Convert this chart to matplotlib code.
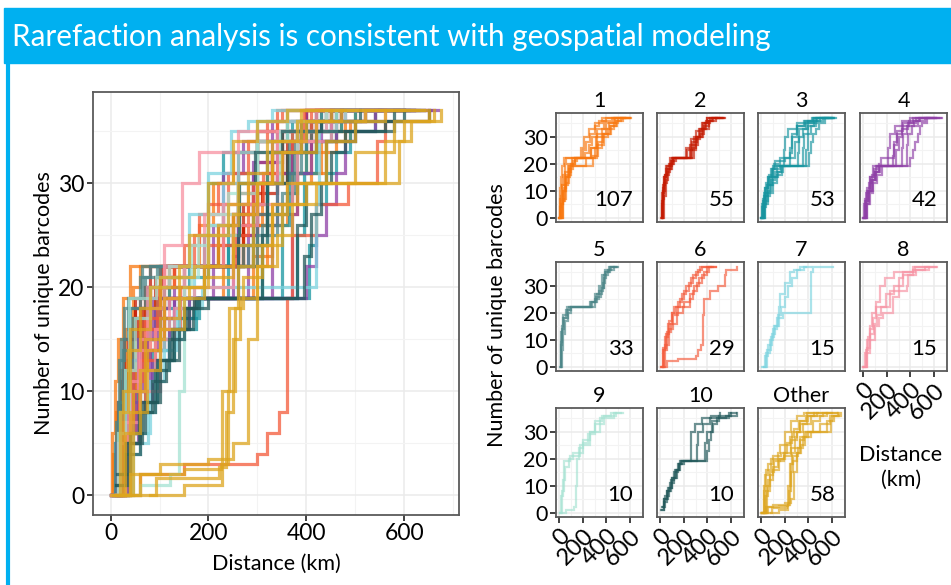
import matplotlib.pyplot as plt
from matplotlib.patches import Rectangle
from matplotlib.lines import Line2D

plt.rcParams['font.family'] = ['Lato', 'DejaVu Sans']

title = "Rarefaction analysis is consistent with geospatial modeling"

cluster_names = ["1", "2", "3", "4", "5", "6", "7", "8", "9", "10", "Other"]
cluster_sizes = [107, 55, 53, 42, 33, 29, 15, 15, 10, 10, 58]
cluster_colors = ["#F8770E", "#C41A02", "#16949F", "#8E3FA6", "#4A8587", "#F45A3A",
                  "#7DD4E0", "#F790A1", "#A5E2D2", "#21585A", "#DDA51E"]

# each curve: (distance km, number of unique barcodes) knots
curves_1 = [
    [(0, 0), (5, 4), (12, 8), (20, 12), (30, 16), (45, 20), (60, 22), (170, 22), (200, 25), (230, 28),
     (260, 31), (300, 34), (340, 36), (400, 37), (520, 37)],
    [(5, 0), (15, 5), (30, 10), (50, 15), (80, 19), (110, 22), (240, 22), (270, 26), (310, 30), (360, 33),
     (420, 35), (470, 37), (600, 37)],
    [(10, 0), (20, 6), (40, 11), (60, 15), (90, 19), (260, 19), (290, 23), (330, 28), (370, 31), (430, 34),
     (480, 36), (520, 37), (600, 37)],
    [(0, 0), (10, 7), (25, 12), (45, 17), (70, 20), (130, 22), (200, 22), (220, 24), (250, 27), (280, 30),
     (320, 33), (380, 36), (450, 37), (560, 37)],
    [(15, 0), (30, 6), (50, 12), (75, 17), (100, 20), (130, 22), (260, 22), (300, 26), (360, 30), (410, 33),
     (460, 35), (500, 37), (590, 37)],
    [(0, 0), (3, 6), (8, 11), (15, 15), (25, 19), (40, 22), (150, 22), (180, 26), (210, 30), (250, 33),
     (300, 35), (360, 37), (480, 37)],
    [(20, 0), (35, 7), (55, 13), (80, 18), (120, 21), (150, 22), (280, 22), (320, 27), (380, 31), (440, 34),
     (490, 36), (540, 37), (610, 37)],
    [(8, 0), (18, 5), (35, 10), (60, 16), (95, 19), (200, 19), (230, 22), (270, 26), (320, 31), (400, 35),
     (460, 37), (560, 37)],
]
curves_2 = [
    [(15, 0), (18, 6), (25, 12), (40, 16), (60, 19), (100, 22), (200, 22), (230, 25), (270, 28), (310, 30),
     (340, 33), (380, 35), (420, 37), (520, 37)],
    [(20, 0), (25, 7), (35, 13), (55, 17), (80, 20), (120, 22), (240, 22), (270, 26), (300, 29), (340, 31),
     (370, 34), (410, 36), (450, 37), (540, 37)],
    [(10, 0), (15, 5), (22, 11), (35, 15), (50, 18), (90, 21), (110, 22), (210, 22), (250, 27), (290, 30),
     (330, 33), (360, 35), (400, 37), (500, 37)],
    [(25, 0), (30, 8), (45, 14), (65, 18), (100, 21), (130, 22), (230, 22), (260, 25), (300, 30), (350, 33),
     (390, 36), (440, 37), (530, 37)],
    [(12, 0), (16, 9), (28, 15), (50, 19), (80, 22), (180, 22), (220, 26), (260, 29), (300, 32), (350, 35),
     (400, 37), (480, 37)],
    [(18, 0), (22, 10), (38, 16), (70, 20), (105, 22), (260, 22), (290, 27), (320, 30), (360, 33), (410, 36),
     (470, 37), (550, 37)],
]
curves_3 = [
    [(0, 0), (10, 4), (25, 8), (45, 12), (70, 15), (100, 18), (130, 19), (180, 19), (190, 25), (200, 30),
     (230, 33), (300, 35), (400, 36), (460, 37), (600, 37)],
    [(10, 0), (20, 5), (40, 9), (60, 12), (90, 15), (130, 18), (160, 19), (300, 19), (310, 24), (320, 30),
     (350, 33), (400, 35), (470, 37), (610, 37)],
    [(5, 0), (20, 4), (40, 8), (70, 12), (100, 15), (140, 17), (180, 19), (370, 19), (380, 25), (395, 31),
     (420, 34), (460, 36), (520, 37), (620, 37)],
    [(15, 0), (30, 6), (55, 10), (85, 14), (120, 17), (170, 19), (390, 19), (405, 24), (420, 28), (440, 31),
     (460, 33), (490, 35), (540, 37), (630, 37)],
    [(0, 0), (15, 6), (35, 11), (60, 15), (90, 18), (120, 21), (200, 22), (240, 24), (260, 30), (300, 34),
     (360, 36), (430, 37), (570, 37)],
    [(0, 0), (8, 5), (20, 9), (40, 13), (65, 16), (95, 19), (230, 19), (240, 26), (260, 31), (300, 34),
     (370, 36), (440, 37), (590, 37)],
    [(20, 0), (35, 5), (60, 9), (95, 13), (130, 16), (175, 19), (340, 19), (350, 26), (365, 31), (400, 34),
     (450, 36), (500, 37), (620, 37)],
    [(5, 0), (15, 7), (30, 11), (55, 15), (80, 18), (110, 20), (160, 22), (280, 22), (290, 28), (320, 33),
     (380, 35), (450, 37), (600, 37)],
]
curves_4 = [
    [(0, 0), (10, 5), (25, 9), (45, 13), (75, 16), (110, 19), (200, 19), (210, 26), (230, 31), (270, 34),
     (330, 36), (400, 37), (560, 37)],
    [(10, 0), (25, 5), (45, 10), (70, 14), (100, 17), (140, 19), (320, 19), (330, 26), (340, 31), (370, 34),
     (430, 36), (480, 37), (620, 37)],
    [(5, 0), (20, 6), (40, 10), (65, 14), (95, 17), (130, 19), (390, 19), (400, 22), (420, 25), (440, 28),
     (460, 31), (480, 34), (500, 35), (540, 37), (660, 37)],
    [(15, 0), (30, 6), (50, 10), (80, 14), (110, 17), (130, 20), (150, 22), (250, 22), (260, 28), (290, 32),
     (340, 35), (420, 37), (600, 37)],
    [(0, 0), (15, 7), (35, 11), (60, 15), (90, 18), (120, 19), (270, 19), (280, 25), (300, 30), (330, 33),
     (380, 35), (450, 37), (640, 37)],
    [(20, 0), (35, 5), (55, 9), (85, 13), (120, 16), (160, 19), (360, 19), (370, 27), (380, 31), (410, 34),
     (460, 36), (520, 37), (670, 37)],
    [(5, 0), (15, 6), (30, 10), (55, 15), (85, 19), (240, 19), (250, 23), (260, 27), (290, 31), (330, 34),
     (390, 36), (470, 37), (620, 37)],
]
curves_5 = [
    [(10, 0), (12, 7), (18, 13), (28, 18), (60, 21), (80, 22), (250, 22), (280, 24), (320, 27), (360, 29),
     (380, 33), (400, 35), (420, 37), (480, 37)],
    [(15, 0), (18, 8), (25, 14), (40, 18), (70, 21), (95, 22), (260, 22), (300, 25), (340, 28), (370, 31),
     (390, 35), (430, 37), (500, 37)],
    [(20, 0), (22, 6), (30, 12), (45, 17), (75, 20), (100, 22), (240, 22), (270, 24), (310, 26), (350, 29),
     (375, 34), (410, 36), (460, 37)],
    [(12, 0), (15, 9), (22, 15), (35, 19), (65, 22), (230, 22), (260, 24), (300, 27), (340, 30), (365, 34),
     (390, 36), (440, 37), (490, 37)],
]
curves_6 = [
    [(14, 0), (30, 6), (57, 13), (90, 16), (141, 20), (190, 22), (254, 25), (280, 28), (311, 31), (350, 34),
     (395, 37), (470, 37)],
    [(10, 0), (25, 7), (45, 12), (70, 17), (100, 20), (130, 22), (170, 25), (200, 28), (240, 31), (280, 34),
     (320, 36), (350, 37), (450, 37)],
    [(20, 0), (40, 8), (70, 14), (110, 19), (150, 22), (200, 24), (250, 27), (290, 30), (330, 33), (370, 35),
     (410, 37), (470, 37)],
    [(5, 0), (20, 6), (40, 11), (65, 16), (95, 20), (120, 22), (150, 24), (180, 27), (220, 30), (260, 33),
     (300, 35), (340, 37), (430, 37)],
    [(20, 0), (60, 2), (150, 3), (300, 4), (320, 6), (345, 8), (360, 19), (370, 25), (420, 28), (486, 30),
     (530, 30), (545, 34), (560, 36), (650, 37)],
]
curves_7 = [
    [(20, 0), (40, 5), (76, 10), (100, 14), (133, 18), (150, 22), (161, 27), (200, 31), (246, 35), (280, 36),
     (330, 37), (380, 37)],
    [(10, 0), (30, 4), (60, 8), (90, 12), (120, 15), (150, 18), (186, 20), (415, 20), (420, 28), (425, 35),
     (440, 37), (610, 37)],
    [(25, 0), (45, 6), (80, 11), (110, 15), (140, 19), (170, 22), (200, 26), (230, 30), (260, 33), (300, 36),
     (360, 37), (420, 37)],
]
curves_8 = [
    [(0, 0), (20, 6), (40, 11), (60, 15), (75, 20), (110, 24), (145, 30), (180, 33), (260, 35), (420, 37),
     (540, 37)],
    [(5, 0), (30, 5), (60, 10), (100, 15), (130, 18), (170, 20), (250, 26), (300, 30), (340, 34), (420, 36),
     (520, 37), (625, 37)],
    [(10, 0), (30, 7), (60, 12), (90, 16), (120, 19), (150, 22), (230, 28), (370, 30), (380, 34), (450, 36),
     (560, 37), (620, 37)],
    [(0, 0), (15, 5), (35, 10), (55, 14), (80, 18), (110, 22), (190, 27), (260, 30), (300, 33), (340, 35),
     (440, 37), (560, 37)],
]
curves_9 = [
    [(8, 0), (20, 8), (37, 19), (93, 21), (178, 25), (263, 30), (347, 35), (460, 37), (542, 37)],
    [(10, 0), (60, 1), (121, 2), (140, 10), (150, 20), (165, 24), (200, 27), (260, 30), (300, 34), (360, 36),
     (440, 37), (520, 37)],
    [(5, 0), (15, 6), (30, 12), (50, 17), (80, 20), (120, 22), (200, 26), (240, 29), (300, 33), (380, 36),
     (480, 37)],
]
curves_10 = [
    [(14, 2), (30, 5), (57, 8), (85, 11), (113, 13), (140, 16), (169, 18), (180, 19), (390, 19), (395, 23),
     (410, 27), (430, 30), (450, 33), (480, 35), (560, 36), (650, 37)],
    [(10, 1), (30, 4), (60, 8), (90, 12), (120, 15), (150, 18), (170, 19), (254, 19), (260, 25), (263, 30),
     (296, 33), (350, 35), (430, 36), (510, 37)],
    [(20, 2), (40, 6), (70, 9), (100, 13), (130, 16), (160, 18), (200, 19), (370, 19), (380, 26), (400, 30),
     (440, 34), (500, 35), (580, 37), (640, 37)],
    [(12, 1), (35, 5), (65, 9), (95, 13), (125, 16), (155, 18), (175, 19), (300, 19), (310, 25), (320, 30),
     (360, 33), (420, 35), (500, 36), (600, 37)],
]
curves_other = [
    [(20, 0), (40, 8), (75, 14), (100, 17), (140, 20), (190, 22), (220, 26), (260, 30), (330, 33), (390, 37),
     (480, 37)],
    [(10, 0), (30, 6), (60, 12), (100, 16), (150, 19), (190, 21), (250, 24), (330, 28), (380, 30), (440, 34),
     (500, 36), (560, 37), (645, 37)],
    [(4, 0), (93, 1.7), (222, 2.7), (235, 8), (250, 15), (265, 19), (300, 22), (340, 25), (370, 28), (420, 30),
     (573, 30), (590, 34), (614, 36), (675, 37)],
    [(80, 0), (150, 1), (222, 1), (228, 10), (242, 18), (260, 22), (290, 28), (300, 30), (330, 34), (400, 36),
     (450, 37), (600, 37)],
    [(5, 0), (40, 2), (100, 3), (200, 3.5), (250, 5), (280, 15), (300, 22), (330, 27), (360, 30), (520, 30),
     (560, 34), (600, 36), (660, 37)],
    [(15, 0), (25, 10), (40, 16), (80, 20), (140, 22), (160, 25), (200, 30), (250, 34), (300, 36), (360, 37),
     (450, 37)],
    [(10, 0), (20, 8), (35, 14), (60, 18), (100, 21), (170, 22), (200, 25), (240, 28), (280, 31), (320, 34),
     (380, 36), (470, 37), (560, 37)],
    [(0, 0), (60, 2), (150, 2.5), (225, 3), (240, 10), (255, 18), (270, 21), (310, 24), (350, 28), (400, 30),
     (470, 30), (500, 33), (580, 36), (650, 37)],
    [(25, 0), (45, 10), (70, 15), (110, 19), (160, 20), (200, 22), (250, 27), (300, 30), (350, 33), (420, 36),
     (520, 37), (640, 37)],
]
cluster_curves = [curves_1, curves_2, curves_3, curves_4, curves_5, curves_6,
                  curves_7, curves_8, curves_9, curves_10, curves_other]

x_ticks = [0, 200, 400, 600]
y_ticks = [0, 10, 20, 30]

W, H = 951, 585
fig = plt.figure(figsize=(W / 100, H / 100), dpi=100)


def fig_box(left, top, right, bottom):
    return [left / W, 1 - bottom / H, (right - left) / W, (bottom - top) / H]


def style_axes(ax, xlim, ylim, labelsize):
    ax.set_xlim(*xlim)
    ax.set_ylim(*ylim)
    ax.set_xticks(x_ticks)
    ax.set_xticks([100, 300, 500, 700], minor=True)
    ax.set_yticks(y_ticks)
    ax.set_yticks([5, 15, 25, 35], minor=True)
    ax.grid(which='major', color='#EBEBEB', lw=1.1)
    ax.grid(which='minor', color='#F3F3F3', lw=0.8)
    ax.set_axisbelow(True)
    ax.tick_params(which='minor', length=0)
    ax.tick_params(which='major', length=4, width=1.3, color='#333333',
                   labelsize=labelsize, pad=2, labelcolor='black')
    for sp in ax.spines.values():
        sp.set_color('#5A5A5A')
        sp.set_linewidth(1.3)


def draw_curve(ax, knots, color, lw, alpha):
    xs = [k[0] for k in knots]
    ys = [k[1] for k in knots]
    ax.step(xs, ys, where='post', color=color, lw=lw, alpha=alpha, solid_joinstyle='miter')


# title bar
fig.patches.append(Rectangle((4 / W, 1 - 63 / H), 1, 55 / H, transform=fig.transFigure,
                             color='#00B0F0', zorder=0))
fig.lines.append(Line2D([7.5 / W, 7.5 / W], [0, 1 - 63 / H], transform=fig.transFigure,
                        color='#00B0F0', lw=3))
fig.text(12 / W, 1 - 37 / H, title, color='white', fontsize=21.3, va='center', ha='left')

# main plot
ax = fig.add_axes(fig_box(93, 92, 459, 515))
style_axes(ax, (-36, 712), (-1.9, 38.75), 16.5)
for curves, color in zip(cluster_curves, cluster_colors):
    for knots in curves:
        draw_curve(ax, knots, color, 2.3, 0.75)
ax.set_xlabel("Distance (km)", fontsize=15.5, labelpad=7)
ax.set_ylabel("Number of unique barcodes", fontsize=15.5, labelpad=3)

# small multiples
col_left = [556, 657, 758, 860]
row_top = [113, 262, 408]
panel_w, panel_h = 87, 109
for i, (name, size, color, curves) in enumerate(zip(cluster_names, cluster_sizes,
                                                      cluster_colors, cluster_curves)):
    r, c = divmod(i, 4)
    left, top = col_left[c], row_top[r]
    sax = fig.add_axes(fig_box(left, top, left + panel_w, top + panel_h))
    style_axes(sax, (-28, 710), (-1.6, 38.8), 15.5)
    for knots in curves:
        draw_curve(sax, knots, color, 1.6, 0.65)
    sax.set_title(name, fontsize=15.5, pad=4)
    sax.text(0.89, 0.2, str(size), transform=sax.transAxes, ha='right', va='center', fontsize=16)
    if c != 0:
        sax.tick_params(left=False, labelleft=False)
    show_x = (r == 2) or (r == 1 and c == 3)
    if show_x:
        sax.set_xticklabels([str(t) for t in x_ticks], rotation=45, ha='right',
                            rotation_mode='anchor', fontsize=17)
    else:
        sax.tick_params(bottom=False, labelbottom=False)

fig.text(497 / W, 1 - 315 / H, "Number of unique barcodes", rotation=90, fontsize=15.5,
         ha='center', va='center')
fig.text(901 / W, 1 - 467 / H, "Distance\n(km)", fontsize=15.5, ha='center', va='center',
         linespacing=1.3)

fig.savefig("out.png", dpi=100)
